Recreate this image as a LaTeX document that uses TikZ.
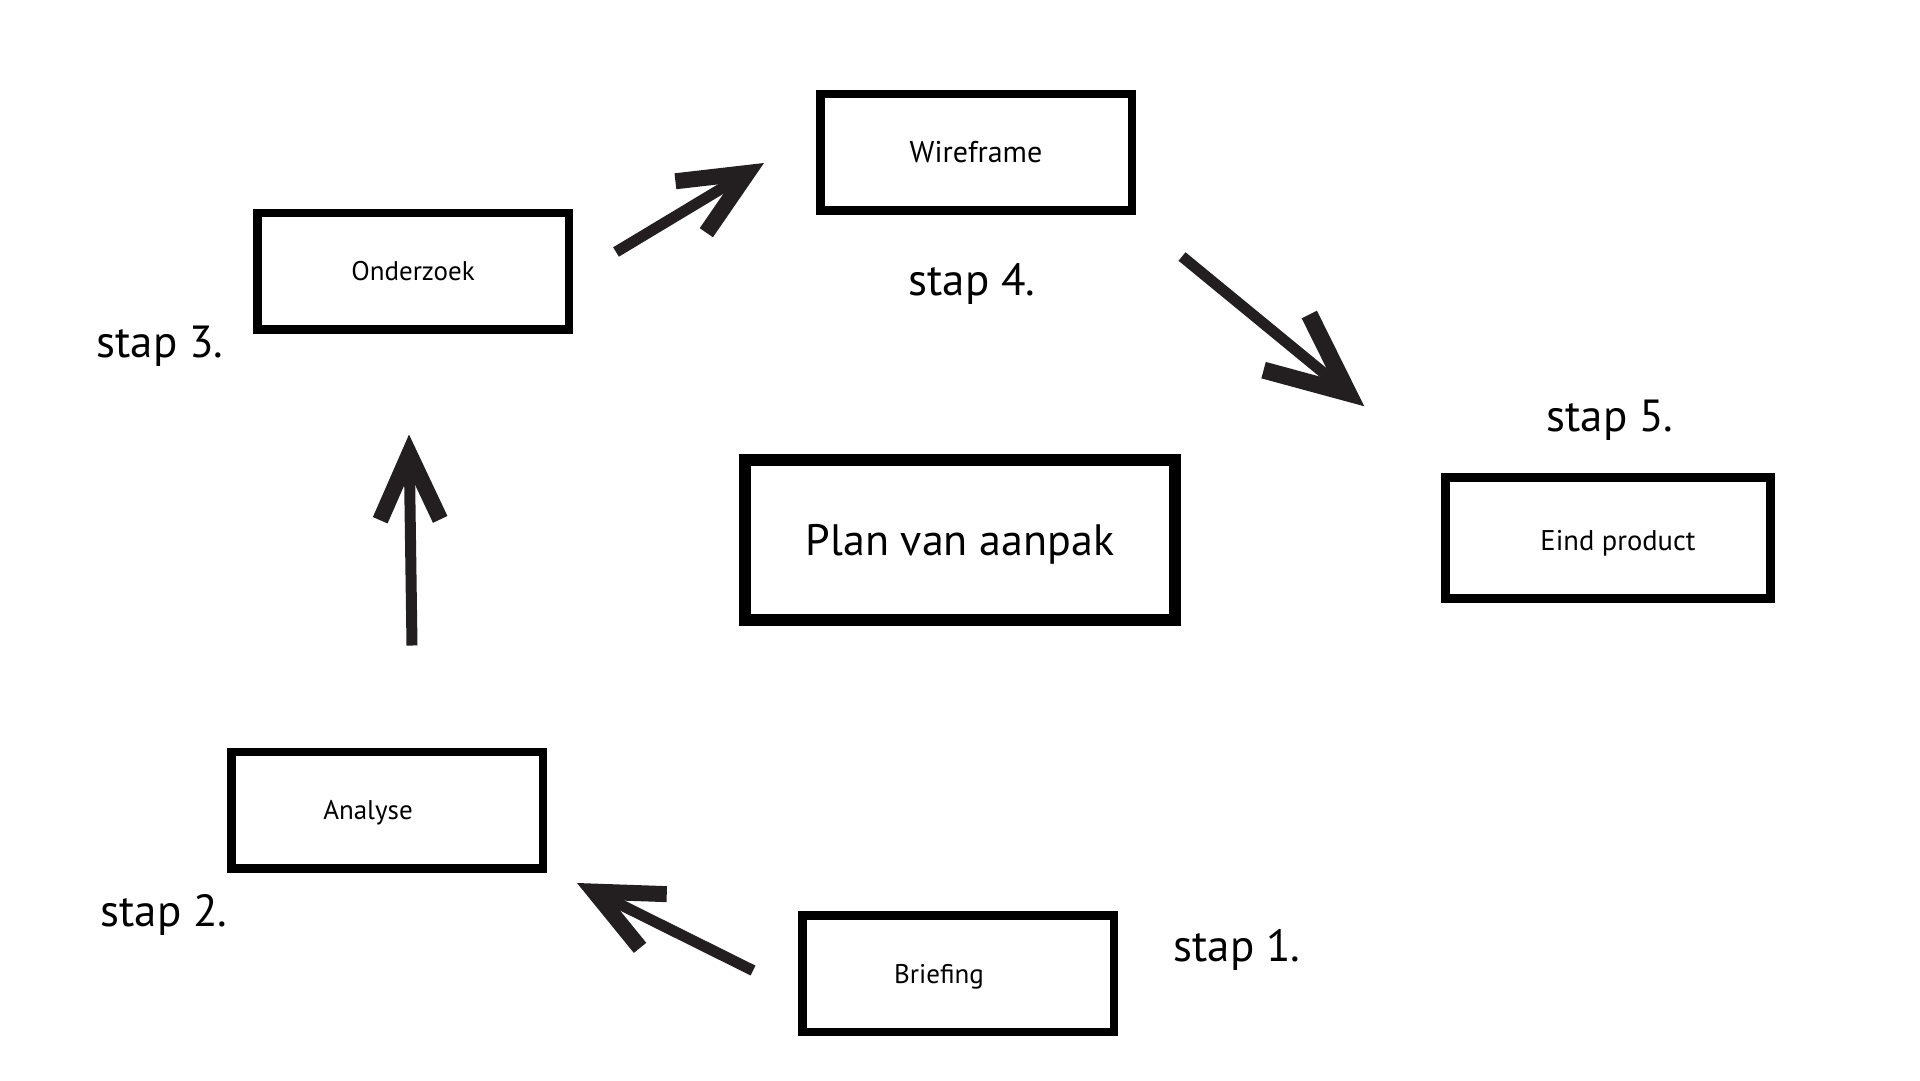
\documentclass[tikz,border=0pt]{standalone}
\usepackage{fontspec}
\setmainfont{PT Sans}
\usetikzlibrary{arrows.meta}
\definecolor{arrowink}{RGB}{35,31,32}

\begin{document}
\begin{tikzpicture}[x=1pt,y=-1pt,
    boxtext/.style={font=\fontsize{27}{32}\selectfont, text height=19pt, text depth=0pt},
    stepbox/.style={draw, line width=8.5pt, minimum width=311.5pt, minimum height=116.5pt, inner sep=0pt, boxtext},
    steplabel/.style={anchor=base, font=\fontsize{45}{54}\selectfont},
    steparrow/.style={draw=arrowink, line width=11pt, -{Straight Barb[length=66pt, width=60pt, line width=16pt, sharp]}}]
    \path[fill=white, use as bounding box] (0,0) rectangle (1920,1080);

    % Steps round the plan
    \node [stepbox] (briefing) at (958,973.5) {};
    \node [boxtext] (briefingtext) at ([xshift=-19pt]briefing.center) {Briefing};
    \node [stepbox] (analyse) at (387,810) {};
    \node [boxtext] (analysetext) at ([xshift=-19pt]analyse.center) {Analyse};
    \node [stepbox] (onderzoek) at (413,271) {Onderzoek};
    \node [stepbox, font=\fontsize{30}{36}\selectfont, text height=21pt] (wireframe) at (976,152) {Wireframe};
    \node [stepbox, minimum width=325pt, minimum height=121pt] (eind) at (1608,538) {};
    \node [boxtext, font=\fontsize{28.5}{34}\selectfont, text height=20pt] (eindtext) at ([shift={(10,2)}]eind.center) {Eind product};

    % Centre: the plan itself
    \node [draw, line width=12pt, minimum width=430pt, minimum height=160pt, font=\fontsize{44}{52}\selectfont, text height=31pt, text depth=0pt] (plan) at (960,539.5) {Plan van aanpak};

    % Step numbers
    \node [steplabel] (stap1) at (1237,961) {stap 1.};
    \node [steplabel] (stap2) at (164,926) {stap 2.};
    \node [steplabel] (stap3) at (160,357) {stap 3.};
    \node [steplabel] (stap4) at (972,295) {stap 4.};
    \node [steplabel] (stap5) at (1610,431) {stap 5.};

    % Arrows between the steps
    \draw [steparrow] ([shift={(-45,-3)}]briefing.west) -- ([shift={(30,73)}]analyse.east);
    \draw [steparrow] ([shift={(25,-102)}]analyse.north) -- ([shift={(-4,101)}]onderzoek.south);
    \draw [steparrow] ([shift={(43,-19)}]onderzoek.east) -- ([shift={(-52,11)}]wireframe.west);
    \draw [steparrow, -{Straight Barb[length=80pt, width=72pt, line width=17pt, sharp]}] ([shift={(46,42)}]wireframe.south east) -- ([shift={(-77,-67)}]eind.north west);

\end{tikzpicture}
\end{document}
